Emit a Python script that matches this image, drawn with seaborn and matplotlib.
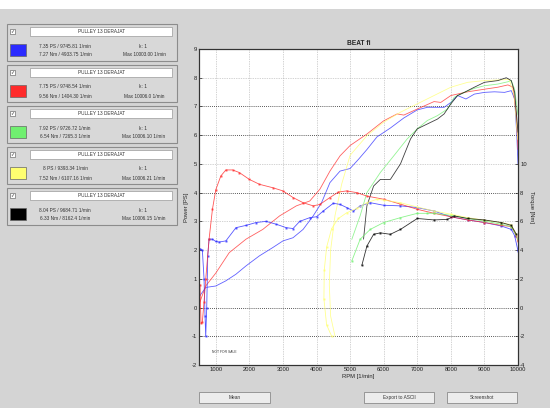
import matplotlib
matplotlib.use("Agg")
import matplotlib.pyplot as plt
from matplotlib.patches import Rectangle
import seaborn as sns
import pandas as pd

# ---------------- data ----------------
run_colors = ["#2b2bff", "#ff2b2b", "#70f070", "#ffff70", "#000000"]
run_names = ["PULLEY 13 DERAJAT"] * 5
run_line1 = ["7.35 PS / 9745.81 1/min", "7.75 PS / 9748.54 1/min", "7.92 PS / 9726.72 1/min",
             "8 PS / 9393.34 1/min", "8.04 PS / 9684.71 1/min"]
run_line2 = ["7.27 Nm / 4933.75 1/min", "9.56 Nm / 1404.30 1/min", "6.54 Nm / 7265.3 1/min",
             "7.52 Nm / 6107.16 1/min", "6.33 Nm / 8162.4 1/min"]
run_k = ["k: 1"] * 5
run_max = ["Max 10003.00 1/min", "Max 10006.0 1/min", "Max 10006.10 1/min",
           "Max 10006.21 1/min", "Max 10006.15 1/min"]

blue_power_rpm = [520, 700, 1000, 1300, 1600, 1900, 2300, 2700, 3000, 3300, 3600, 3900, 4150, 4400, 4700,
                  5000, 5250, 5500, 5800, 6200, 6600, 7000, 7300, 7800, 8000, 8200, 8450, 8700, 9000, 9300,
                  9600, 9800, 9900, 9960, 10000]
blue_power_ps = [0.4, 0.7, 0.75, 0.93, 1.16, 1.45, 1.8, 2.09, 2.32, 2.43, 2.72, 3.19, 3.65, 4.35, 4.75,
                 4.84, 5.16, 5.5, 5.94, 6.25, 6.6, 6.88, 6.97, 6.97, 7.14, 7.38, 7.26, 7.43, 7.49, 7.51,
                 7.49, 7.55, 7.26, 6.1, 5.0]
blue_torque_rpm = [520, 600, 650, 680, 700, 730, 760, 800, 900, 1000, 1100, 1300, 1600, 1900, 2200, 2500,
                   2800, 3100, 3300, 3500, 3800, 4000, 4200, 4500, 4700, 4900, 5100, 5300, 5600, 6000,
                   6500, 7000, 7500, 8000, 8500, 9000, 9500, 9800, 9900, 10000]
blue_torque_nm = [4.1, 4.0, 2.0, -0.6, -2.0, 0.0, 3.6, 4.76, 4.76, 4.6, 4.56, 4.64, 5.56, 5.72, 5.92, 6.0,
                  5.8, 5.56, 5.5, 6.0, 6.26, 6.32, 6.72, 7.26, 7.18, 6.96, 6.72, 7.08, 7.3, 7.12,
                  7.08, 6.96, 6.72, 6.32, 6.1, 5.92, 5.68, 5.44, 5.0, 3.94]

red_power_rpm = [520, 700, 1000, 1400, 1900, 2400, 2900, 3400, 3800, 4100, 4400, 4700, 5000, 5500, 6000,
                 6400, 6600, 7000, 7500, 7700, 8000, 8500, 9000, 9400, 9700, 9850, 9950, 10000]
red_power_ps = [0.17, 0.75, 1.2, 1.91, 2.38, 2.72, 3.19, 3.54, 3.71, 4.12, 4.75, 5.28, 5.64, 6.04, 6.5,
                6.74, 6.7, 6.91, 7.17, 7.14, 7.38, 7.51, 7.6, 7.67, 7.75, 7.67, 6.68, 5.5]
red_torque_rpm = [530, 560, 600, 650, 700, 800, 900, 1000, 1150, 1300, 1500, 1700, 2000, 2300, 2700, 3000,
                  3300, 3600, 3900, 4100, 4400, 4650, 4900, 5200, 5500, 6000, 6500, 7000, 7500, 8000,
                  8500, 9000, 9500, 9800, 9950, 10000]
red_torque_nm = [1.6, -1.1, -1.0, 0.4, 1.96, 4.76, 6.84, 8.2, 9.16, 9.58, 9.58, 9.4, 8.92, 8.58, 8.34, 8.12,
                 7.66, 7.3, 7.08, 7.18, 7.66, 8.04, 8.12, 8.0, 7.76, 7.54, 7.2, 6.84, 6.56, 6.32,
                 6.1, 5.92, 5.72, 5.64, 5.0, 4.6]

green_power_rpm = [5050, 5300, 5500, 5900, 6300, 6700, 7000, 7300, 7600, 7900, 8100, 8400, 8700, 9000,
                   9400, 9700, 9800, 9900, 10000]
green_power_ps = [2.37, 3.2, 4.0, 4.7, 5.28, 5.87, 6.22, 6.51, 6.68, 6.91, 7.32, 7.49, 7.63, 7.72,
                  7.78, 7.86, 7.9, 7.6, 6.7]
green_torque_rpm = [5050, 5300, 5600, 6000, 6500, 7000, 7300, 7500, 8000, 8500, 9000, 9500, 9800, 10000]
green_torque_nm = [3.24, 4.76, 5.44, 5.92, 6.26, 6.56, 6.56, 6.56, 6.42, 6.2, 6.02, 5.8, 5.64, 4.76]

yellow_power_rpm = [4550, 4420, 4380, 4420, 4550, 4750, 5000, 5500, 6000, 6500, 7000, 7500, 8000, 8500,
                    9000, 9400, 9740, 9890, 9990]
yellow_power_ps = [-1.0, -0.3, 0.8, 2.0, 3.2, 4.3, 5.3, 5.98, 6.45, 6.8, 7.09, 7.38, 7.67, 7.84,
                   7.9, 7.92, 7.94, 7.36, 5.85]
yellow_torque_rpm = [4450, 4300, 4220, 4230, 4300, 4450, 4650, 4900, 5200, 5500, 5800, 6000, 6500, 7000,
                     7500, 8000, 8500, 9000, 9500, 9800, 9950]
yellow_torque_nm = [-2.0, -1.2, 0.6, 2.6, 4.2, 5.5, 6.2, 6.6, 6.9, 7.3, 7.54, 7.48, 7.3, 7.0,
                    6.72, 6.5, 6.26, 6.08, 5.92, 5.76, 5.1]

black_power_rpm = [5400, 5500, 5700, 5900, 6200, 6500, 6800, 7000, 7300, 7600, 7800, 8000, 8200, 8400,
                   8700, 9000, 9400, 9650, 9800, 9900, 10000]
black_power_ps = [2.38, 3.54, 4.23, 4.46, 4.46, 5.0, 5.87, 6.22, 6.39, 6.56, 6.74, 7.09, 7.38, 7.49,
                  7.67, 7.84, 7.9, 8.0, 7.9, 7.49, 6.1]
black_torque_rpm = [5350, 5500, 5700, 5900, 6200, 6500, 7000, 7500, 7900, 8100, 8500, 9000, 9500, 9800, 9950]
black_torque_nm = [2.94, 4.28, 5.1, 5.2, 5.1, 5.44, 6.2, 6.1, 6.14, 6.38, 6.2, 6.1, 5.92, 5.72, 5.1]

x_ticks = [1000, 2000, 3000, 4000, 5000, 6000, 7000, 8000, 9000, 10000]
power_ticks = [-2, -1, 0, 1, 2, 3, 4, 5, 6, 7, 8, 9]
torque_ticks = [-4, -2, 0, 2, 4, 6, 8, 10]

power_series = [(blue_power_rpm, blue_power_ps), (red_power_rpm, red_power_ps),
                (green_power_rpm, green_power_ps), (yellow_power_rpm, yellow_power_ps),
                (black_power_rpm, black_power_ps)]
torque_series = [(blue_torque_rpm, blue_torque_nm), (red_torque_rpm, red_torque_nm),
                 (green_torque_rpm, green_torque_nm), (yellow_torque_rpm, yellow_torque_nm),
                 (black_torque_rpm, black_torque_nm)]

# ---------------- figure ----------------
sns.set_style("white")
plt.rcParams["font.family"] = ["Liberation Sans", "DejaVu Sans"]
W, H = 550, 408
BG = "#d4d4d4"
fig = plt.figure(figsize=(W / 100, H / 100), dpi=100, facecolor=BG)

bg = fig.add_axes([0, 0, 1, 1], zorder=-5)
bg.set_xlim(0, W)
bg.set_ylim(H, 0)
bg.axis("off")
bg.add_patch(Rectangle((0, 0), W, 9, facecolor="white", edgecolor="none"))

# legend panels
for i in range(5):
    top = 24 + i * 41
    bg.add_patch(Rectangle((7, top), 170, 37, facecolor="#d8d8d8", edgecolor="#8c8c8c", lw=0.8))
    bg.add_patch(Rectangle((30, top + 3), 142, 9, facecolor="white", edgecolor="#9a9a9a", lw=0.5))
    bg.text(101, top + 7.5, run_names[i], fontsize=3.4, ha="center", va="center", color="#333333")
    bg.add_patch(Rectangle((10, top + 4.5), 5, 5, facecolor="white", edgecolor="#555555", lw=0.4))
    bg.text(12.5, top + 7, "✓", fontsize=3.5, ha="center", va="center", family="DejaVu Sans")
    bg.add_patch(Rectangle((10, top + 20), 16, 12, facecolor=run_colors[i], edgecolor="#666666", lw=0.5))
    bg.text(65, top + 22, run_line1[i], fontsize=3.4, ha="center", va="center", color="#333333")
    bg.text(65, top + 31, run_line2[i], fontsize=3.4, ha="center", va="center", color="#333333")
    bg.text(143, top + 22, run_k[i], fontsize=3.4, ha="center", va="center", color="#333333")
    bg.text(144, top + 31, run_max[i], fontsize=3.4, ha="center", va="center", color="#333333")

# buttons
for (x0, x1, label) in [(199, 270, "Mean"), (364, 434, "Export to ASCII"), (447, 517, "Screenshot")]:
    bg.add_patch(Rectangle((x0, 392), x1 - x0, 11, facecolor="#ececec", edgecolor="#8a8a8a", lw=0.6))
    bg.text((x0 + x1) / 2, 397.5, label, fontsize=3.4, ha="center", va="center", color="#333333")

# main axes
ax = fig.add_axes([199 / W, 1 - 365 / H, (518 - 199) / W, (365 - 49) / H])
ax.set_facecolor("white")
ax.set_xlim(500, 10000)
ax.set_ylim(-2, 9)

for xv in x_ticks[:-1]:
    ax.axvline(xv, color="#a8a8a8", lw=0.5, ls=(0, (1, 1.5)), zorder=0)
for yv in power_ticks[1:-1]:
    dark = yv in (7, 6, 4, 0, -1)
    ax.axhline(yv, color="#222222" if dark else "#a8a8a8", lw=0.6 if dark else 0.5,
               ls=(0, (1, 1.5)), zorder=0)

for (rpm, ps), col in zip(power_series, run_colors):
    df = pd.DataFrame({"rpm": rpm, "val": ps})
    sns.lineplot(data=df, x="rpm", y="val", ax=ax, color=col, lw=0.6, sort=False,
                 estimator=None, alpha=0.75)

ax2 = ax.twinx()
ax2.set_ylim(-4, 18)
for (rpm, nm), col in zip(torque_series, run_colors):
    df = pd.DataFrame({"rpm": rpm, "val": nm})
    sns.lineplot(data=df, x="rpm", y="val", ax=ax2, color=col, lw=0.6, sort=False,
                 estimator=None, alpha=0.8, marker="s", markersize=1.4, markeredgewidth=0)
ax.set_xlim(500, 10000)

ax.set_xticks(x_ticks)
ax.set_xticklabels([str(v) for v in x_ticks], fontsize=4.2)
ax.set_yticks(power_ticks)
ax.set_yticklabels([str(v) for v in power_ticks], fontsize=4.2)
ax2.set_yticks(torque_ticks)
ax2.set_yticklabels([str(v) for v in torque_ticks], fontsize=4.2)
for a in (ax, ax2):
    a.tick_params(direction="in", length=2, width=0.5, pad=1.5, colors="#222222")
    for s in a.spines.values():
        s.set_color("#333333")
        s.set_linewidth(0.8)

ax.set_xlabel("RPM [1/min]", fontsize=4.2, labelpad=1.5)
ax.set_ylabel("Power [PS]", fontsize=4.2, labelpad=2)
ax2.set_ylabel("Torque [Nm]", fontsize=4.2, rotation=-90, labelpad=5)
ax.set_title("BEAT fi", fontsize=4.8, fontweight="bold", pad=3)
ax.text(900, -1.55, "NOT FOR SALE", fontsize=2.4, color="#333333", va="center")

fig.savefig("out.png", dpi=100, facecolor=BG)
